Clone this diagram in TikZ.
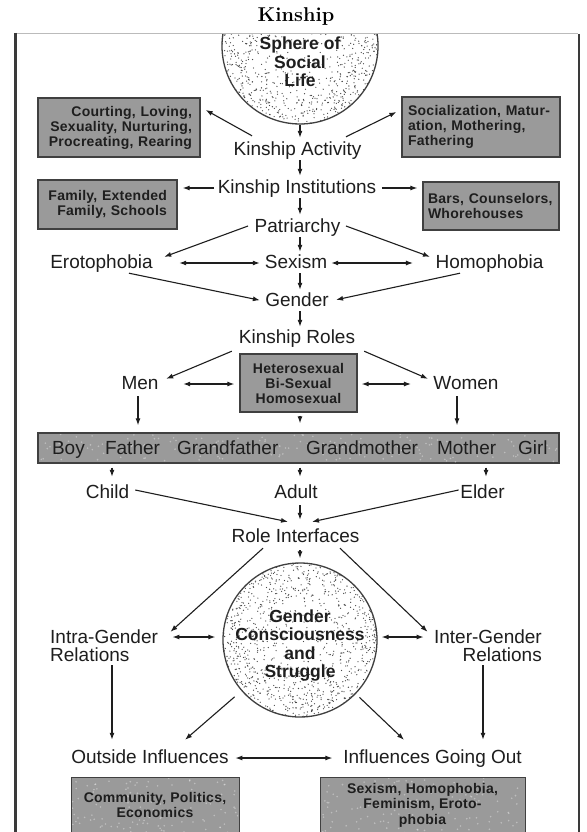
\documentclass[tikz,border=0pt]{standalone}
\usepackage{fontspec}
\newfontfamily\diaf{Liberation Sans}
\newfontfamily\boxf[LetterSpace=2.0]{Liberation Sans}
\usetikzlibrary{arrows.meta,calc}
\definecolor{cInk}{HTML}{1E1E1E}
\definecolor{cBox}{HTML}{9A9A9A}
\definecolor{cEdge}{HTML}{404040}
\definecolor{cDot}{HTML}{4A4A4A}
\definecolor{cFrame}{HTML}{3A3A3A}
\definecolor{cTop}{HTML}{BBBBBB}
\tikzset{
  lbl/.style={font={\diaf\fontsize{19}{18}\selectfont}, text=cInk, text height=13.5pt, text depth=3.5pt, inner sep=1.5pt},
  ml/.style={font={\diaf\fontsize{19}{18}\selectfont}, text=cInk, inner sep=1.5pt},
  gbox/.style={draw=cEdge, line width=1.3pt, fill=cBox, font={\boxf\bfseries\fontsize{14}{15}\selectfont}, text=cInk, inner ysep=2pt},
  btext/.style={font={\boxf\bfseries\fontsize{14}{15.5}\selectfont}, text=cInk, align=center, inner sep=1pt},
  ctext/.style={font={\diaf\bfseries\fontsize{17.5}{18.6}\selectfont}, text=cInk, align=center, inner sep=1pt},
  arr/.style={draw=cInk, line width=1.1pt, -{Latex[length=7pt,width=5pt]}},
  darr/.style={draw=cInk, line width=1.1pt, {Latex[length=7pt,width=5pt]}-{Latex[length=7pt,width=5pt]}},
  speck/.style={fill=cDot},
  lspeck/.style={fill=white, opacity=0.35},
}
\newcommand{\stipple}[4]{% cx, cy, r, seed
  \begin{scope}
    \clip (#1,#2) circle (#3pt);
    \pgfmathsetseed{#4}
    \foreach \i in {1,...,950}{
      \pgfmathsetmacro\rr{#3*pow(rnd,0.33)}
      \pgfmathsetmacro\aa{360*rnd}
      \fill[speck] ({#1+\rr*cos(\aa)},{#2+\rr*sin(\aa)}) circle (0.65pt);
    }
  \end{scope}}
\newcommand{\mottle}[5]{% x1,y1,x2,y2,seed
  \begin{scope}
    \clip (#1,#2) rectangle (#3,#4);
    \pgfmathsetseed{#5}
    \foreach \i in {1,...,160}{
      \pgfmathsetmacro\px{#1+(#3-#1)*rnd}
      \pgfmathsetmacro\py{#2+(#4-#2)*rnd}
      \fill[lspeck] (\px,\py) circle (0.9pt);
    }
  \end{scope}}
\begin{document}
\begin{tikzpicture}[x=1pt,y=-1pt]
\useasboundingbox (0,0) rectangle (586,832);
\fill[white] (0,0) rectangle (586,832);
\begin{scope}
\clip (0,0) rectangle (586,832);

% title
\node[font={\rmfamily\bfseries\fontsize{20}{22}\selectfont}, text=black] (title) at (296,17) {Kinship};

% frame
\draw[cTop, line width=1pt] (17,34) -- (578,34);
\draw[cFrame, line width=3pt] (15.5,33) -- (15.5,840);
\draw[cFrame, line width=2pt] (579,34) -- (579,840);

% column / row helpers
\coordinate (colA) at (300,0);
\coordinate (colC) at (112,0);
\coordinate (colE) at (486,0);
\coordinate (colM) at (138,0);
\coordinate (colW) at (457,0);
\coordinate (colIG) at (483,0);
\coordinate (rowIR) at (0,637);

% sphere of social life
\begin{scope}
  \clip (0,34.5) rectangle (586,200);
  \stipple{300}{46}{78}{7}
  \node[circle, draw=cEdge, line width=1.3pt, minimum size=156pt, inner sep=0pt] (sphere) at (300,46) {};
\end{scope}
\node[ctext] (spheretxt) at (300,62) {Sphere of\\Social\\Life};

% top rows
\node[gbox, text width=146pt, inner xsep=8pt, minimum height=59pt, align=right] (boxTL) at (119,127.5) {Courting, Loving,\\Sexuality, Nurturing,\\Procreating, Rearing};
\node[gbox, text width=146pt, inner xsep=6pt, minimum height=60pt, align=left] (boxTR) at (481,127) {Socialization, Matur-\\ation, Mothering,\\Fathering};
\node[lbl] (act) at (297.5,150) {Kinship Activity};
\node[lbl] (inst) at (297,188) {Kinship Institutions};
\node[gbox, text width=119pt, inner xsep=10pt, minimum height=49pt, align=right] (boxL2) at (107.5,204.5) {Family, Extended\\Family, Schools};
\node[gbox, text width=126pt, inner xsep=5pt, minimum height=48pt, align=left] (boxR2) at (491,206) {Bars, Counselors,\\Whorehouses};
\node[lbl] (patr) at (297.5,227) {Patriarchy};
\node[lbl] (eroto) at (101.5,263) {Erotophobia};
\node[lbl] (sexism) at (296,263) {Sexism};
\node[lbl] (homo) at (489.5,263) {Homophobia};
\node[lbl] (gender) at (297,301) {Gender};
\node[lbl] (roles) at (297,338) {Kinship Roles};
\node[lbl] (men) at (140,384) {Men};
\node[lbl] (women) at (466,384) {Women};
\node[gbox, text width=107pt, inner xsep=5pt, minimum height=58pt, align=center] (midbox) at (298.5,383) {Heterosexual\\Bi-Sexual\\Homosexual};

% role bar
\node[gbox, minimum width=521pt, minimum height=30pt, inner sep=0pt] (bar) at (298.5,448) {};
\mottle{39}{434}{558}{462}{21}
\node[lbl] (boy) at (68.4,449) {Boy};
\node[lbl] (father) at (132.5,449) {Father};
\node[lbl] (gfather) at (227.7,449) {Grandfather};
\node[lbl] (gmother) at (362,449) {Grandmother};
\node[lbl] (mother) at (466.6,449) {Mother};
\node[lbl] (girl) at (532.8,449) {Girl};

\node[lbl] (child) at (107.5,493) {Child};
\node[lbl] (adult) at (296,493) {Adult};
\node[lbl] (elder) at (482.5,493) {Elder};
\node[lbl] (roleif) at (295.5,537) {Role Interfaces};

% gender consciousness circle
\stipple{300}{640}{77}{11}
\node[circle, draw=cEdge, line width=1.3pt, minimum size=154pt, inner sep=0pt] (gcs) at (300,640) {};
\node[ctext] (gcstxt) at (300,645.5) {Gender\\Consciousness\\and\\Struggle};

\node[ml, align=left, anchor=west] (intra) at (48.5,646) {Intra-Gender\\Relations};
\node[ml, align=right, anchor=east] (inter) at (543.5,646) {Inter-Gender\\Relations};
\node[lbl] (outside) at (150,758) {Outside Influences};
\node[lbl] (goingout) at (432.5,758) {Influences Going Out};

\node[gbox, minimum width=168pt, minimum height=70pt, inner sep=0pt, anchor=north west] (boxBL) at (71,777) {};
\node[gbox, minimum width=205pt, minimum height=70pt, inner sep=0pt, anchor=north west] (boxBR) at (320,777) {};
\mottle{72}{778}{238}{846}{31}
\mottle{321}{778}{524}{846}{41}
\node[btext] (boxBLt) at (155,805) {Community, Politics,\\Economics};
\node[btext] (boxBRt) at (422.5,805) {Sexism, Homophobia,\\Feminism, Eroto-\\phobia};

% connectors
\draw[arr, shorten >=2pt] (sphere.south -| colA) -- (act.north -| colA);
\draw[arr] ([xshift=-45.5pt,yshift=4pt]act.north) -- ([xshift=5pt,yshift=17.5pt]boxTL.east);
\draw[arr] ([xshift=48.5pt,yshift=3pt]act.north) -- ([xshift=-5pt,yshift=15pt]boxTR.west);
\draw[arr, shorten >=2pt] (act.south -| colA) -- (inst.north -| colA);
\draw[arr, shorten <=2pt, shorten >=5pt] (inst.west) -- (inst.west -| boxL2.east);
\draw[arr, shorten <=4pt, shorten >=5pt] (inst.east) -- (inst.east -| boxR2.west);
\draw[arr, shorten >=2pt] (inst.south -| colA) -- (patr.north -| colA);
\draw[arr] ([xshift=-5pt,yshift=1pt]patr.west) -- ([xshift=9.8pt,yshift=-4pt]eroto.north east);
\draw[arr] ([xshift=4pt,yshift=1pt]patr.east) -- ([xshift=-4pt,yshift=-4pt]homo.north west);
\draw[arr, shorten >=1pt] (patr.south -| colA) -- (sexism.north -| colA);
\draw[darr, shorten <=24.8pt, shorten >=3.4pt] (eroto.east) -- (sexism.west);
\draw[darr, shorten <=2.4pt, shorten >=21pt] (sexism.east) -- (homo.west);
\draw[arr, shorten >=3.8pt] ([xshift=27.5pt]eroto.south) -- (gender.west);
\draw[arr, shorten >=5.8pt] ([xshift=-29.5pt]homo.south) -- (gender.east);
\draw[arr, shorten >=1pt] (sexism.south -| colA) -- (gender.north -| colA);
\draw[arr, shorten >=1pt] (gender.south -| colA) -- (roles.north -| colA);
\draw[arr] ([xshift=-5.4pt,yshift=-3pt]roles.south west) -- ([xshift=6pt,yshift=-5pt]men.north east);
\draw[arr] ([xshift=7.4pt,yshift=-3pt]roles.south east) -- ([xshift=-3.8pt,yshift=-5pt]women.north west);
\draw[darr, shorten <=23pt, shorten >=5pt] (men.east) -- (men.east -| midbox.west);
\draw[darr, shorten <=4pt, shorten >=20.8pt] (women.west -| midbox.east) -- (women.west);
\draw[arr, shorten <=2pt, shorten >=7pt] (men.south -| colM) -- (bar.north -| colM);
\draw[arr, shorten <=2pt, shorten >=7pt] (women.south -| colW) -- (bar.north -| colW);
\draw[arr, shorten <=3pt, shorten >=9pt] (midbox.south -| colA) -- (bar.north -| colA);
\draw[arr, shorten <=4pt, shorten >=6pt] (bar.south -| colC) -- (child.north -| colC);
\draw[arr, shorten <=4pt, shorten >=6pt] (bar.south -| colA) -- (adult.north -| colA);
\draw[arr, shorten <=4pt, shorten >=6pt] (bar.south -| colE) -- (elder.north -| colE);
\draw[arr] ([xshift=4.4pt,yshift=3pt]child.east) -- ([xshift=-7.5pt,yshift=5pt]roleif.north);
\draw[arr, shorten <=2pt, shorten >=7pt] (adult.south -| colA) -- (roleif.north -| colA);
\draw[arr] ([yshift=3pt]elder.west) -- ([xshift=16.5pt,yshift=5pt]roleif.north);
\draw[arr, shorten <=3pt, shorten >=4pt] (roleif.south -| colA) -- (gcs.north);
\draw[arr] ([xshift=-32.5pt,yshift=-1pt]roleif.south) -- ([xshift=10.8pt,yshift=-3.5pt]intra.north east);
\draw[arr] ([xshift=44.5pt,yshift=-1pt]roleif.south) -- ([xshift=-4.8pt,yshift=-3.5pt]inter.north west);
\draw[darr, shorten <=12.8pt, shorten >=7pt] (intra.east |- rowIR) -- (gcs.west |- rowIR);
\draw[darr, shorten <=4pt, shorten >=8.8pt] (gcs.east |- rowIR) -- (inter.west |- rowIR);
\draw[arr, shorten <=1.5pt, shorten >=8pt] (intra.south -| colC) -- (outside.north -| colC);
\draw[arr, shorten <=1.5pt, shorten >=8pt] (inter.south -| colIG) -- (goingout.north -| colIG);
\draw[arr, shorten <=9pt] (gcs.221) -- ([xshift=35pt,yshift=8pt]outside.north);
\draw[arr, shorten <=5pt] (gcs.-44) -- ([xshift=-28.5pt,yshift=8pt]goingout.north);
\draw[darr, shorten <=5pt, shorten >=9.2pt] (outside.east) -- (goingout.west);
\end{scope}
\end{tikzpicture}
\end{document}
